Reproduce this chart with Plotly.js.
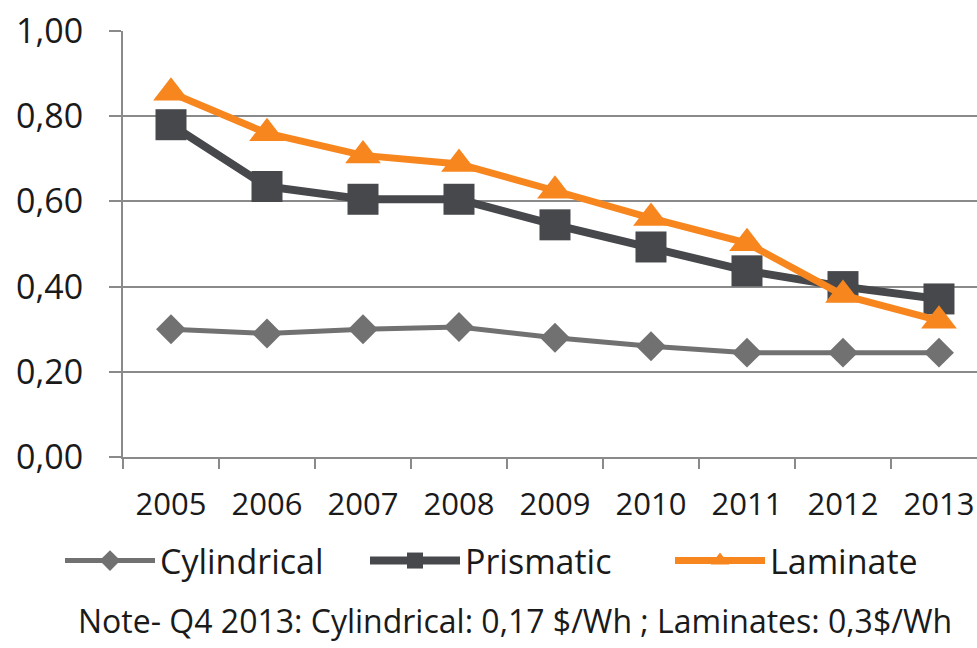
<!DOCTYPE html>
<html>
<head>
<meta charset="utf-8">
<script src="https://cdn.plot.ly/plotly-3.0.1.min.js"></script>
<style>html,body{margin:0;padding:0;background:#fff;}#chart{width:977px;height:648px;}</style>
</head>
<body>
<div id="chart"></div>
<script>
var years = ['2005','2006','2007','2008','2009','2010','2011','2012','2013'];
var cylindrical = [0.30, 0.29, 0.30, 0.305, 0.28, 0.26, 0.245, 0.245, 0.245];
var prismatic = [0.78, 0.635, 0.605, 0.605, 0.545, 0.493, 0.437, 0.40, 0.371];
var laminate = [0.855, 0.76, 0.708, 0.688, 0.625, 0.561, 0.502, 0.38, 0.32];
var yTicks = [0, 0.2, 0.4, 0.6, 0.8, 1.0];
var noteText = 'Note- Q4 2013: Cylindrical: 0,17 $/Wh ; Laminates: 0,3$/Wh';

var font = 'Open Sans, sans-serif';
var traces = [
  {x: years, y: cylindrical, name: 'Cylindrical', type: 'scatter', mode: 'lines+markers',
   line: {color: '#717171', width: 5}, marker: {symbol: 'diamond', size: 23, color: '#717171'}},
  {x: years, y: prismatic, name: 'Prismatic', type: 'scatter', mode: 'lines+markers',
   line: {color: '#46484b', width: 8}, marker: {symbol: 'square', size: 31, color: '#46484b'}},
  {x: years, y: laminate, name: 'Laminate', type: 'scatter', mode: 'lines+markers',
   line: {color: '#f7861e', width: 7}, marker: {symbol: 'triangle-up', size: 31, color: '#f7861e'}}
];

var layout = {
  width: 977, height: 648,
  margin: {l: 123, r: 0, t: 31, b: 191, autoexpand: false},
  paper_bgcolor: '#fff', plot_bgcolor: '#fff',
  separators: ', ',
  showlegend: true,
  font: {family: font, color: '#1a1a1a'},
  xaxis: {
    type: 'category', range: [-0.5, 8.396], tickson: 'boundaries',
    showgrid: false, showline: true, linecolor: '#8a8a8a', linewidth: 2,
    ticks: 'outside', ticklen: 10, tickwidth: 2, tickcolor: '#8a8a8a',
    ticklabelstandoff: 19, tickangle: 0, automargin: false,
    tickfont: {family: font, size: 31, color: '#1a1a1a'}, fixedrange: true
  },
  yaxis: {
    range: [0, 1], tickvals: yTicks, tickformat: '.2f',
    showgrid: true, gridcolor: '#8a8a8a', gridwidth: 2,
    showline: true, linecolor: '#8a8a8a', linewidth: 2,
    ticks: 'outside', ticklen: 12, tickwidth: 2, tickcolor: '#8a8a8a',
    ticklabelstandoff: 19, zeroline: false, automargin: false,
    tickfont: {family: font, size: 34, color: '#1a1a1a'}, fixedrange: true
  },
  legend: {
    orientation: 'h', xref: 'paper', x: (60-123)/854, xanchor: 'left',
    y: -0.244, yanchor: 'middle', itemwidth: 90, itemsizing: 'trace',
    entrywidth: 200,
    font: {family: font, size: 34, color: '#1a1a1a'}, traceorder: 'normal'
  },
  annotations: [{
    text: noteText, xref: 'paper', yref: 'paper', x: (515-123)/854, y: -0.383,
    xanchor: 'center', yanchor: 'middle', showarrow: false,
    font: {family: font, size: 32, color: '#1a1a1a'}
  }]
};

Plotly.newPlot('chart', traces, layout, {displayModeBar: false, staticPlot: true});
</script>
</body>
</html>
